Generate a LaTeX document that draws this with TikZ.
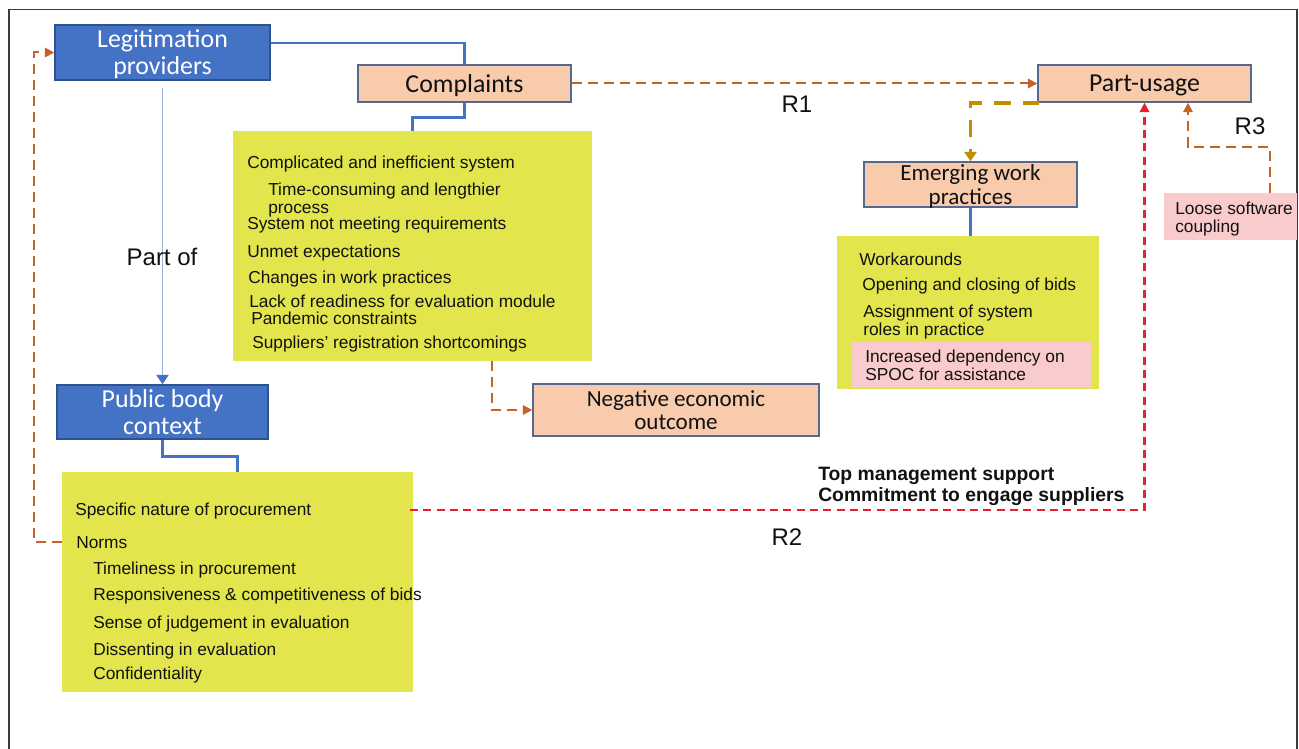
\documentclass[tikz,border=0pt]{standalone}
\usepackage{fontspec}
\setmainfont{Liberation Sans}
\newfontfamily\calfont{Carlito}
\usetikzlibrary{arrows.meta}
\definecolor{myblue}{HTML}{4472C4}
\definecolor{bluebord}{HTML}{2F528F}
\definecolor{peach}{HTML}{F8CBAD}
\definecolor{peachbord}{HTML}{55688F}
\definecolor{yel}{HTML}{E2E64C}
\definecolor{pinkc}{HTML}{F9CBCC}
\definecolor{oran}{HTML}{C8602A}
\definecolor{redc}{HTML}{E8202A}
\definecolor{goldc}{HTML}{BF9000}
\definecolor{lightb}{HTML}{9DB3DC}
\definecolor{txt}{HTML}{111111}
\definecolor{framec}{HTML}{3A3A3A}
\begin{document}
\begin{tikzpicture}[x=0.75pt,y=-0.75pt,
  box/.style={draw, line width=1.1pt, inner sep=0pt, align=center},
  bluebox/.style={box, fill=myblue, draw=bluebord, text=white, font=\calfont\fontsize{19.4}{20.25}\selectfont},
  peachbox/.style={box, fill=peach, draw=peachbord, text=txt, font=\calfont\fontsize{19.4}{20.25}\selectfont},
  peachsmall/.style={peachbox, font=\calfont\fontsize{17.3}{17.6}\selectfont},
  nodepth/.style={text depth=0pt},
  yelbox/.style={fill=yel, inner sep=0pt, draw=none},
  pinkbox/.style={fill=pinkc, inner sep=0pt, draw=none},
  item/.style={anchor=west, inner sep=0pt, text height=9.3pt, text depth=0pt, font=\fontsize{13}{14}\selectfont, text=txt},
  bolditem/.style={anchor=west, inner sep=0pt, text height=10.4pt, text depth=0pt, font=\bfseries\fontsize{14.5}{15}\selectfont, text=txt},
  bigtxt/.style={inner sep=0pt, font=\fontsize{18}{20}\selectfont, text=txt},
  bluelink/.style={draw=myblue, line width=2.2pt},
  partof/.style={draw=lightb, line width=1.4pt, -{Triangle[length=7pt,width=9pt,fill=myblue,color=myblue]}},
  odash/.style={draw=oran, line width=1.5pt, dash pattern=on 7.5pt off 4.5pt, -{Triangle[length=7pt,width=7pt]}},
  rdash/.style={draw=redc, line width=1.7pt, dash pattern=on 6pt off 4pt, -{Triangle[length=7pt,width=7pt]}},
  gdash/.style={draw=goldc, line width=2.8pt, dash pattern=on 12.5pt off 9pt, -{Triangle[length=7pt,width=9pt]}}
]
\useasboundingbox (0,0) rectangle (1299,749);
\fill[white] (0,0) rectangle (1299,749);
% frame
\draw[framec, line width=1.3pt] (9,749) -- (9,9.5) -- (1297,9.5) -- (1297,749);

% boxes
\node[bluebox, nodepth, minimum width=161.25pt, minimum height=41.25pt] (legit) at (162.5,52.5) {Legitimation\\providers};
\node[peachbox, nodepth, minimum width=159.75pt, minimum height=27.75pt] (compl) at (464.5,83.5) {Complaints};
\node[yelbox, minimum width=269.25pt, minimum height=172.5pt] (cyel) at (412.5,246) {};
\node[peachsmall, minimum width=214.5pt, minimum height=39pt] (neg) at (676,410) {Negative economic\\outcome};
\node[peachbox, nodepth, minimum width=159.75pt, minimum height=27.75pt] (part) at (1144.5,83.5) {Part-usage};
\node[peachsmall, nodepth, minimum width=159.75pt, minimum height=33.75pt] (emerg) at (970.5,184.5) {Emerging work\\practices};
\node[yelbox, minimum width=196.5pt, minimum height=114.75pt] (eyel) at (968,312.5) {};
\node[pinkbox, minimum width=179.25pt, minimum height=33.75pt] (epink) at (971.5,364.5) {};
\node[pinkbox, minimum width=99.75pt, minimum height=35.25pt] (loose) at (1230.5,216.5) {};
\node[bluebox, minimum width=158.25pt, minimum height=40.5pt] (public) at (162.5,412) {Public body\\context};
\node[yelbox, minimum width=263.25pt, minimum height=165pt] (byel) at (237.5,582) {};

% connectors
\draw[bluelink] ([yshift=7.1pt]legit.east) -| (compl.north);
\draw[bluelink] (compl.south) -- ++(0,15) -| (cyel.north);
\draw[bluelink] (public.south) -- ++(0,17) -| (byel.north);
\draw[bluelink] (emerg.south) -- (emerg.south |- eyel.north);
\draw[partof] ([yshift=-5.2pt]legit.south) -- (public.north);

\coordinate (normsL) at (62,542);
\draw[odash] (normsL) -- ++(-28,0) |- (legit.west);
\draw[odash] (compl.east) -- (part.west);
\coordinate (cyS) at (492,361);
\draw[odash] (cyS) |- (neg.west);
\draw[gdash] ([xshift=1.5pt]part.south west) -| (emerg.north);
\coordinate (r2s) at (410,510);
\draw[rdash] (r2s) -| (part.south);
\coordinate (looseT) at (1270,193);
\coordinate (p3) at ([xshift=32.6pt]part.south);
\draw[odash] (looseT) -- ++(0,-46) -| (p3);

% labels
\node[bigtxt] (lpartof) at (162,257) {Part of};
\node[bigtxt] (lr1) at (797,104) {R1};
\node[bigtxt] (lr2) at (787,537) {R2};
\node[bigtxt] (lr3) at (1250,126) {R3};
\node[bolditem] (tm1) at (818,474) {Top management support};
\node[bolditem] (tm2) at (818,495) {Commitment to engage suppliers};

% complaints items
\node[item] (c1) at (247,162) {Complicated and inefficient system};
\node[item] (c2) at (268,189) {Time-consuming and lengthier};
\node[item] (c3) at (268,207) {process};
\node[item] (c4) at (247,223) {System not meeting requirements};
\node[item] (c5) at (247,251) {Unmet expectations};
\node[item] (c6) at (248,277) {Changes in work practices};
\node[item] (c7) at (249,301) {Lack of readiness for evaluation module};
\node[item] (c8) at (251,318) {Pandemic constraints};
\node[item] (c9) at (252,342) {Suppliers’ registration shortcomings};

% emerging items
\node[item] (e1) at (859,259) {Workarounds};
\node[item] (e2) at (862,284) {Opening and closing of bids};
\node[item] (e3) at (863,311) {Assignment of system};
\node[item] (e4) at (863,329) {roles in practice};
\node[item] (e5) at (865,356) {Increased dependency on};
\node[item] (e6) at (865,374) {SPOC for assistance};

% loose
\node[item] (l1) at (1175,208) {Loose software};
\node[item] (l2) at (1175,226) {coupling};

% public body items
\node[item] (b1) at (75,509) {Specific nature of procurement};
\node[item] (b2) at (76,542) {Norms};
\node[item] (b3) at (93,568) {Timeliness in procurement};
\node[item] (b4) at (93,594) {Responsiveness \& competitiveness of bids};
\node[item] (b5) at (93,622) {Sense of judgement in evaluation};
\node[item] (b6) at (93,649) {Dissenting in evaluation};
\node[item] (b7) at (93,673) {Confidentiality};
\end{tikzpicture}
\end{document}
